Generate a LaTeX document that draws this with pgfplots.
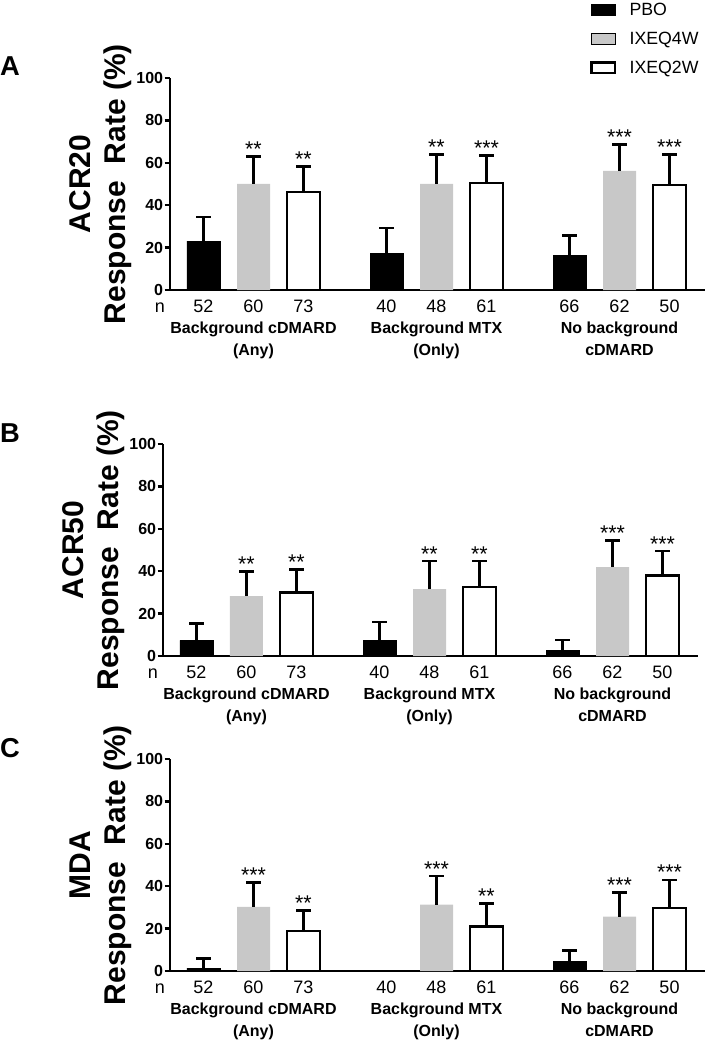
\documentclass[border=0pt]{standalone}
\usepackage{fontspec}
\setmainfont{Liberation Sans}
\usepackage{pgfplots}
\usepackage{pgfplotstable}
\pgfplotsset{compat=1.18}

\definecolor{ixgray}{RGB}{200,200,200}

% one row per group; p = PBO, f = IXEQ4W, t = IXEQ2W; *e = upper error; s* = significance
\pgfplotstableread{
xp   p    pe   xf   f    fe   sf   xt   t    te   st
0    23.0 11.4 1    50.1 12.8 **   2    46.2 12.0 **
3.66 17.2 12.1 4.66 50.1 13.9 **   5.66 50.4 13.1 ***
7.32 16.3 9.4  8.32 56.2 12.5 ***  9.32 49.6 14.4 ***
}\tabA

\pgfplotstableread{
xp   p    pe   xf   f    fe   sf   xt   t    te   st
0    7.4  7.9  1    28.3 11.7 **   2    29.9 10.9 **
3.66 7.5  8.6  4.66 31.5 13.3 **   5.66 32.6 12.2 **
7.32 2.8  4.7  8.32 41.9 12.6 ***  9.32 38.0 11.5 ***
}\tabB

\pgfplotstableread{
xp   p    pe   xf   f    fe   sf   xt   t    te   st
0    1.4  4.4  1    30.2 11.7 ***  2    18.9 9.5  **
3.66 nan  nan  4.66 31.3 13.5 ***  5.66 20.9 11.0 **
7.32 4.4  5.3  8.32 25.6 11.4 ***  9.32 29.7 13.3 ***
}\tabC

\pgfplotsset{
  panel/.style={
    scale only axis, width=401.25pt, height=159pt,
    anchor=south west,
    xmin=-0.67, xmax=10.03, ymin=0, ymax=100,
    axis lines*=left,
    axis line style={line width=1.8pt, black},
    ytick={0,20,...,100},
    xtick={0,1,2,3.66,4.66,5.66,7.32,8.32,9.32},
    xticklabels={52,60,73,40,48,61,66,62,50},
    x tick style={draw=none},
    y tick style={line width=1.8pt, black},
    tick align=outside, major tick length=4pt,
    yticklabel style={font=\bfseries\fontsize{12}{12}\selectfont, inner sep=1pt},
    xticklabel style={font=\fontsize{13.5}{14}\selectfont},
    /pgf/number format/assume math mode=true,
    clip=false,
    ylabel style={at={(axis description cs:-0.13,0.5)}, anchor=center, align=center,
      font=\bfseries\fontsize{22.5}{26.25}\selectfont},
  },
  errs/.style={error bars/.cd, y dir=plus, y explicit,
    error bar style={line width=2pt, black},
    error mark options={rotate=90, mark size=5.6pt, line width=2pt, black}},
  pbo/.style={ybar, bar width=0.66, bar shift=0pt, fill=black, draw=black, line width=0.4pt, errs},
  qf/.style={ybar, bar width=0.66, bar shift=0pt, fill=ixgray, draw=none, errs},
  qt/.style={ybar, bar width=0.66, bar shift=0pt, fill=white, draw=black, line width=2pt, errs},
  stars/.style={draw=none, mark=none, forget plot,
    nodes near coords, point meta=explicit symbolic,
    every node near coord/.style={anchor=base, font=\fontsize{16}{16}\selectfont, inner sep=0pt, yshift=0pt, black}},
}
\tikzset{
  grp/.style={anchor=north, align=center, font=\bfseries\fontsize{12}{16.5}\selectfont,
    inner sep=0pt, yshift=-23.5pt},
  nlab/.style={anchor=north, font=\fontsize{13.5}{14}\selectfont, yshift=-4pt},
  letter/.style={anchor=base west, font=\bfseries\fontsize{20.5}{20.5}\selectfont, inner sep=0pt},
}

\begin{document}
\begin{tikzpicture}
\useasboundingbox (0,0) rectangle (531pt,-780pt);

% ---- A ----
\begin{axis}[panel, at={(127.5pt,-217.5pt)},
  ylabel={ACR20\\Response\ \ Rate (\%)},
  legend style={at={(0.785,1.368)}, anchor=north west, draw=none, fill=none,
    inner sep=0pt, row sep=7pt, font=\fontsize{13.3}{13.3}\selectfont,
    /tikz/every odd column/.append style={column sep=8pt}},
  legend cell align=left,
  legend image code/.code={\draw[#1] (0pt,-3.5pt) rectangle (17.5pt,4.5pt);},
]
\addplot[pbo] table[x=xp, y=p, y error=pe] {\tabA};
\addplot[qf] table[x=xf, y=f, y error=fe] {\tabA};
\addplot[qt] table[x=xt, y=t, y error=te] {\tabA};
\addplot[stars] table[x=xf, y expr=\thisrow{f}+\thisrow{fe}, meta=sf] {\tabA};
\addplot[stars] table[x=xt, y expr=\thisrow{t}+\thisrow{te}, meta=st] {\tabA};
\legend{PBO, IXEQ4W, IXEQ2W}
\node[nlab] at (axis cs:-0.87,0) {\vphantom{0}n};
\node[grp] at (axis cs:1,0) {Background cDMARD\\(Any)};
\node[grp] at (axis cs:4.66,0) {Background MTX\\(Only)};
\node[grp] at (axis cs:8.32,0) {No background\\cDMARD};
\node[letter] at (axis description cs:-0.318,1.014) {A};
\end{axis}

% ---- B ----
\begin{axis}[panel, at={(122.25pt,-492pt)},
  ylabel={ACR50\\Response\ \ Rate (\%)}]
\addplot[pbo] table[x=xp, y=p, y error=pe] {\tabB};
\addplot[qf] table[x=xf, y=f, y error=fe] {\tabB};
\addplot[qt] table[x=xt, y=t, y error=te] {\tabB};
\addplot[stars] table[x=xf, y expr=\thisrow{f}+\thisrow{fe}, meta=sf] {\tabB};
\addplot[stars] table[x=xt, y expr=\thisrow{t}+\thisrow{te}, meta=st] {\tabB};
\node[nlab] at (axis cs:-0.87,0) {\vphantom{0}n};
\node[grp] at (axis cs:1,0) {Background cDMARD\\(Any)};
\node[grp] at (axis cs:4.66,0) {Background MTX\\(Only)};
\node[grp] at (axis cs:8.32,0) {No background\\cDMARD};
\node[letter] at (axis description cs:-0.305,1.005) {B};
\end{axis}

% ---- C ----
\begin{axis}[panel, at={(127.5pt,-728.25pt)},
  ylabel={MDA\\Response\ \ Rate (\%)}]
\addplot[pbo] table[x=xp, y=p, y error=pe] {\tabC};
\addplot[qf] table[x=xf, y=f, y error=fe] {\tabC};
\addplot[qt] table[x=xt, y=t, y error=te] {\tabC};
\addplot[stars] table[x=xf, y expr=\thisrow{f}+\thisrow{fe}, meta=sf] {\tabC};
\addplot[stars] table[x=xt, y expr=\thisrow{t}+\thisrow{te}, meta=st] {\tabC};
\node[nlab] at (axis cs:-0.87,0) {\vphantom{0}n};
\node[grp] at (axis cs:1,0) {Background cDMARD\\(Any)};
\node[grp] at (axis cs:4.66,0) {Background MTX\\(Only)};
\node[grp] at (axis cs:8.32,0) {No background\\cDMARD};
\node[letter] at (axis description cs:-0.318,1.005) {C};
\end{axis}
\end{tikzpicture}
\end{document}
